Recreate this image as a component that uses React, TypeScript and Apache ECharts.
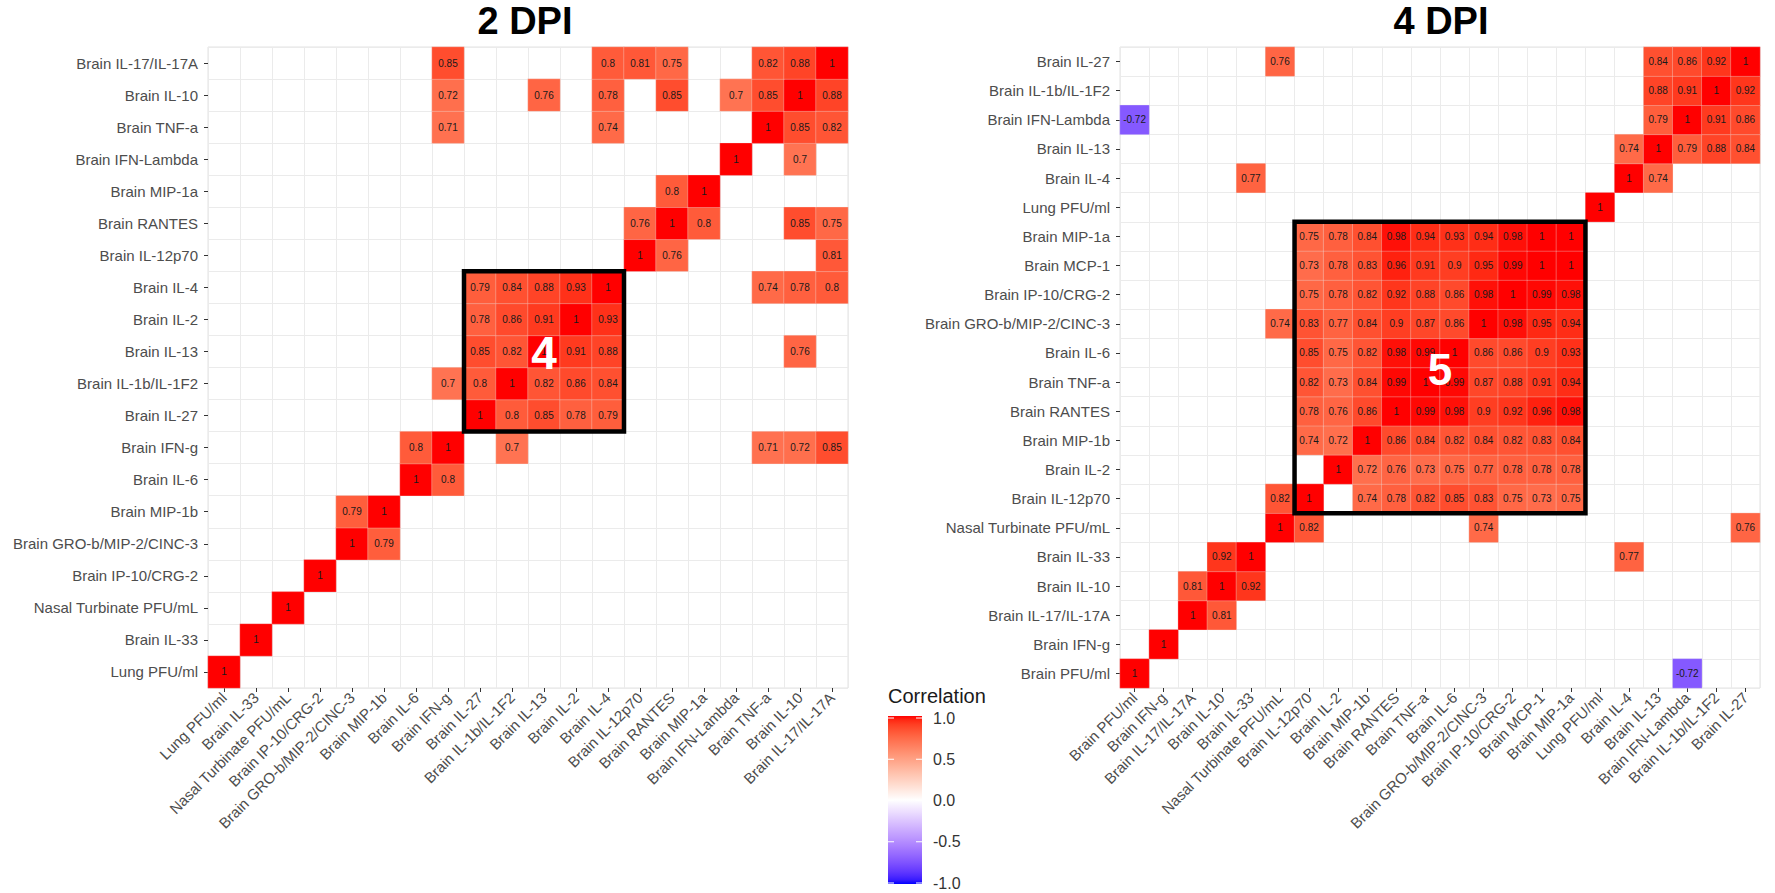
import React, { useEffect, useRef } from 'react';
import * as echarts from 'echarts';

// ---------- DATA ----------
const dpi2Categories = [
  'Lung PFU/ml', 'Brain IL-33', 'Nasal Turbinate PFU/mL', 'Brain IP-10/CRG-2',
  'Brain GRO-b/MIP-2/CINC-3', 'Brain MIP-1b', 'Brain IL-6', 'Brain IFN-g',
  'Brain IL-27', 'Brain IL-1b/IL-1F2', 'Brain IL-13', 'Brain IL-2', 'Brain IL-4',
  'Brain IL-12p70', 'Brain RANTES', 'Brain MIP-1a', 'Brain IFN-Lambda',
  'Brain TNF-a', 'Brain IL-10', 'Brain IL-17/IL-17A',
];

const dpi4Categories = [
  'Brain PFU/ml', 'Brain IFN-g', 'Brain IL-17/IL-17A', 'Brain IL-10', 'Brain IL-33',
  'Nasal Turbinate PFU/mL', 'Brain IL-12p70', 'Brain IL-2', 'Brain MIP-1b',
  'Brain RANTES', 'Brain TNF-a', 'Brain IL-6', 'Brain GRO-b/MIP-2/CINC-3',
  'Brain IP-10/CRG-2', 'Brain MCP-1', 'Brain MIP-1a', 'Lung PFU/ml', 'Brain IL-4',
  'Brain IL-13', 'Brain IFN-Lambda', 'Brain IL-1b/IL-1F2', 'Brain IL-27',
];

// rows follow the category order (index 0 = bottom row); column index -> correlation
const dpi2Rows: Record<number, number>[] = [
  { 0: 1 },
  { 1: 1 },
  { 2: 1 },
  { 3: 1 },
  { 4: 1, 5: 0.79 },
  { 4: 0.79, 5: 1 },
  { 6: 1, 7: 0.8 },
  { 6: 0.8, 7: 1, 9: 0.7, 17: 0.71, 18: 0.72, 19: 0.85 },
  { 8: 1, 9: 0.8, 10: 0.85, 11: 0.78, 12: 0.79 },
  { 7: 0.7, 8: 0.8, 9: 1, 10: 0.82, 11: 0.86, 12: 0.84 },
  { 8: 0.85, 9: 0.82, 10: 1, 11: 0.91, 12: 0.88, 18: 0.76 },
  { 8: 0.78, 9: 0.86, 10: 0.91, 11: 1, 12: 0.93 },
  { 8: 0.79, 9: 0.84, 10: 0.88, 11: 0.93, 12: 1, 17: 0.74, 18: 0.78, 19: 0.8 },
  { 13: 1, 14: 0.76, 19: 0.81 },
  { 13: 0.76, 14: 1, 15: 0.8, 18: 0.85, 19: 0.75 },
  { 14: 0.8, 15: 1 },
  { 16: 1, 18: 0.7 },
  { 7: 0.71, 12: 0.74, 17: 1, 18: 0.85, 19: 0.82 },
  { 7: 0.72, 10: 0.76, 12: 0.78, 14: 0.85, 16: 0.7, 17: 0.85, 18: 1, 19: 0.88 },
  { 7: 0.85, 12: 0.8, 13: 0.81, 14: 0.75, 17: 0.82, 18: 0.88, 19: 1 },
];

const dpi4Rows: Record<number, number>[] = [
  { 0: 1, 19: -0.72 },
  { 1: 1 },
  { 2: 1, 3: 0.81 },
  { 2: 0.81, 3: 1, 4: 0.92 },
  { 3: 0.92, 4: 1, 17: 0.77 },
  { 5: 1, 6: 0.82, 12: 0.74, 21: 0.76 },
  { 5: 0.82, 6: 1, 8: 0.74, 9: 0.78, 10: 0.82, 11: 0.85, 12: 0.83, 13: 0.75, 14: 0.73, 15: 0.75 },
  { 7: 1, 8: 0.72, 9: 0.76, 10: 0.73, 11: 0.75, 12: 0.77, 13: 0.78, 14: 0.78, 15: 0.78 },
  { 6: 0.74, 7: 0.72, 8: 1, 9: 0.86, 10: 0.84, 11: 0.82, 12: 0.84, 13: 0.82, 14: 0.83, 15: 0.84 },
  { 6: 0.78, 7: 0.76, 8: 0.86, 9: 1, 10: 0.99, 11: 0.98, 12: 0.9, 13: 0.92, 14: 0.96, 15: 0.98 },
  { 6: 0.82, 7: 0.73, 8: 0.84, 9: 0.99, 10: 1, 11: 0.99, 12: 0.87, 13: 0.88, 14: 0.91, 15: 0.94 },
  { 6: 0.85, 7: 0.75, 8: 0.82, 9: 0.98, 10: 0.99, 11: 1, 12: 0.86, 13: 0.86, 14: 0.9, 15: 0.93 },
  { 5: 0.74, 6: 0.83, 7: 0.77, 8: 0.84, 9: 0.9, 10: 0.87, 11: 0.86, 12: 1, 13: 0.98, 14: 0.95, 15: 0.94 },
  { 6: 0.75, 7: 0.78, 8: 0.82, 9: 0.92, 10: 0.88, 11: 0.86, 12: 0.98, 13: 1, 14: 0.99, 15: 0.98 },
  { 6: 0.73, 7: 0.78, 8: 0.83, 9: 0.96, 10: 0.91, 11: 0.9, 12: 0.95, 13: 0.99, 14: 1, 15: 1 },
  { 6: 0.75, 7: 0.78, 8: 0.84, 9: 0.98, 10: 0.94, 11: 0.93, 12: 0.94, 13: 0.98, 14: 1, 15: 1 },
  { 16: 1 },
  { 4: 0.77, 17: 1, 18: 0.74 },
  { 17: 0.74, 18: 1, 19: 0.79, 20: 0.88, 21: 0.84 },
  { 0: -0.72, 18: 0.79, 19: 1, 20: 0.91, 21: 0.86 },
  { 18: 0.88, 19: 0.91, 20: 1, 21: 0.92 },
  { 5: 0.76, 18: 0.84, 19: 0.86, 20: 0.92, 21: 1 },
];

const panelTitles = ['2 DPI', '4 DPI'];
const clusterLabels = ['4', '5'];
// highlighted clusters: [firstCol, lastCol, firstRow, lastRow] in category indices
const dpi2Cluster = [8, 12, 8, 12];
const dpi4Cluster = [6, 15, 6, 15];
const legendTicks = [1, 0.5, 0, -0.5, -1];
const legendTickLabels = ['1.0', '0.5', '0.0', '-0.5', '-1.0'];

// ---------- COLOUR SCALE (ggplot gradient2 in Lab space) ----------
const toLin = (c: number) => { c /= 255; return c <= 0.04045 ? c / 12.92 : Math.pow((c + 0.055) / 1.055, 2.4); };
const toSrgb = (c: number) => { c = Math.min(1, Math.max(0, c)); return c <= 0.0031308 ? 12.92 * c : 1.055 * Math.pow(c, 1 / 2.4) - 0.055; };
const fLab = (t: number) => (t > 0.008856 ? Math.cbrt(t) : 7.787 * t + 16 / 116);
const fInv = (t: number) => (t * t * t > 0.008856 ? t * t * t : (t - 16 / 116) / 7.787);
function rgbToLab(rgb: number[]) {
  const [r, g, b] = rgb.map(toLin);
  const X = (0.4124 * r + 0.3576 * g + 0.1805 * b) / 0.95047;
  const Y = 0.2126 * r + 0.7152 * g + 0.0722 * b;
  const Z = (0.0193 * r + 0.1192 * g + 0.9505 * b) / 1.08883;
  return [116 * fLab(Y) - 16, 500 * (fLab(X) - fLab(Y)), 200 * (fLab(Y) - fLab(Z))];
}
function labToHex(lab: number[]) {
  const fy = (lab[0] + 16) / 116, fx = fy + lab[1] / 500, fz = fy - lab[2] / 200;
  const X = 0.95047 * fInv(fx), Y = fInv(fy), Z = 1.08883 * fInv(fz);
  const r = 3.2406 * X - 1.5372 * Y - 0.4986 * Z;
  const g = -0.9689 * X + 1.8758 * Y + 0.0415 * Z;
  const b = 0.0557 * X - 0.204 * Y + 1.057 * Z;
  return '#' + [r, g, b].map((c) => Math.round(toSrgb(c) * 255).toString(16).padStart(2, '0')).join('');
}
const LAB_WHITE = rgbToLab([255, 255, 255]);
const LAB_RED = rgbToLab([255, 0, 0]);
const LAB_BLUE = rgbToLab([0, 0, 255]);
function colorFor(v: number) {
  const end = v >= 0 ? LAB_RED : LAB_BLUE;
  const t = Math.abs(v);
  return labToHex(LAB_WHITE.map((w, i) => w + (end[i] - w) * t));
}
const gradientColors: string[] = [];
for (let i = 0; i <= 40; i++) gradientColors.push(colorFor(-1 + i * 0.05));

const toData = (rows: Record<number, number>[]) => {
  const out: number[][] = [];
  rows.forEach((r, y) => Object.keys(r).forEach((k) => out.push([Number(k), y, r[Number(k)]])));
  return out;
};

const FONT = 'Liberation Sans, Arial, Helvetica, sans-serif';

const makeAxes = (cats: string[], idx: number) => {
  const common = {
    type: 'category' as const,
    gridIndex: idx,
    data: cats,
    axisLine: { show: false },
    axisTick: { show: true, alignWithLabel: true, length: 4, lineStyle: { color: '#333', width: 1 } },
    splitLine: { show: true, interval: 0, lineStyle: { color: '#EBEBEB', width: 1 } },
  };
  return {
    x: { ...common, axisLabel: { interval: 0, rotate: 45, margin: 7, fontSize: 15, color: '#4D4D4D', fontFamily: FONT } },
    y: { ...common, axisLabel: { interval: 0, margin: 10, fontSize: 15, color: '#4D4D4D', fontFamily: FONT } },
  };
};

const App: React.FC = () => {
  const ref = useRef<HTMLDivElement>(null);
  useEffect(() => {
    if (!ref.current) return;
    const chart = echarts.init(ref.current, undefined, { renderer: 'svg' });
    const a0 = makeAxes(dpi2Categories, 0);
    const a1 = makeAxes(dpi4Categories, 1);
    const seriesCommon = {
      type: 'heatmap' as const,
      label: {
        show: true,
        fontSize: 10,
        color: '#1a1a1a',
        fontFamily: FONT,
        formatter: (p: any) => String(p.value[2]),
      },
      itemStyle: { borderColor: 'rgba(240,240,240,0.3)', borderWidth: 1 },
      emphasis: { disabled: true },
    };
    chart.setOption({
      animation: false,
      backgroundColor: '#ffffff',
      grid: [
        { left: 208, top: 47, width: 640, height: 641, show: true, borderColor: '#E3E3E3', borderWidth: 1, backgroundColor: 'transparent' },
        { left: 1120, top: 47, width: 640, height: 641, show: true, borderColor: '#E3E3E3', borderWidth: 1, backgroundColor: 'transparent' },
      ],
      xAxis: [a0.x, a1.x],
      yAxis: [a0.y, a1.y],
      visualMap: {
        type: 'continuous',
        min: -1,
        max: 1,
        show: false,
        dimension: 2,
        seriesIndex: [0, 1],
        inRange: { color: gradientColors },
      },
      series: [
        { ...seriesCommon, xAxisIndex: 0, yAxisIndex: 0, data: toData(dpi2Rows) },
        { ...seriesCommon, xAxisIndex: 1, yAxisIndex: 1, data: toData(dpi4Rows) },
      ],
    });

    const boxes = [dpi2Cluster, dpi4Cluster];
    const graphics: any[] = [];
    boxes.forEach((cl, gi) => {
      const p0 = chart.convertToPixel({ gridIndex: gi }, [cl[0], cl[2]]) as number[];
      const p1 = chart.convertToPixel({ gridIndex: gi }, [cl[1], cl[3]]) as number[];
      const pn = chart.convertToPixel({ gridIndex: gi }, [cl[0] + 1, cl[2] + 1]) as number[];
      const cw = pn[0] - p0[0];
      const ch = p0[1] - pn[1];
      const x0 = p0[0] - cw / 2, x1 = p1[0] + cw / 2;
      const yb = p0[1] + ch / 2, yt = p1[1] - ch / 2;
      graphics.push({
        type: 'rect', z: 100,
        shape: { x: x0, y: yt, width: x1 - x0, height: yb - yt },
        style: { fill: 'none', stroke: '#000', lineWidth: 4.5 },
      });
      graphics.push({
        type: 'text', z: 101,
        x: (x0 + x1) / 2, y: (yt + yb) / 2 + 2,
        style: {
          text: clusterLabels[gi], fill: '#fff', fontSize: gi === 0 ? 46 : 44, fontWeight: 'bold', fontFamily: FONT,
          align: 'center', verticalAlign: 'middle', textAlign: 'center', textVerticalAlign: 'middle',
        },
      });
      const gLeft = gi === 0 ? 208 : 1120;
      graphics.push({
        type: 'text', z: 101,
        x: gLeft + 320 - (gi === 0 ? 3 : -1), y: 21,
        style: {
          text: panelTitles[gi], fill: '#000', fontSize: 38, fontWeight: 'bold', fontFamily: FONT,
          align: 'center', verticalAlign: 'middle', textAlign: 'center', textVerticalAlign: 'middle',
        },
      });
    });

    // legend (colour bar)
    const barX = 888, barW = 34, barTop = 716, barH = 168;
    const yOf = (v: number) => barTop + 2 + ((1 - v) / 2) * (barH - 3);
    graphics.push({
      type: 'text', z: 101, x: 888, y: 696,
      style: { text: 'Correlation', fill: '#1a1a1a', fontSize: 20, fontFamily: FONT, align: 'left', verticalAlign: 'middle', textAlign: 'left', textVerticalAlign: 'middle' },
    });
    graphics.push({
      type: 'rect', z: 100,
      shape: { x: barX, y: barTop, width: barW, height: barH },
      style: {
        fill: new echarts.graphic.LinearGradient(0, 0, 0, 1,
          gradientColors.slice().reverse().map((c, i) => ({ offset: i / (gradientColors.length - 1), color: c }))),
        stroke: 'none',
      },
    });
    legendTicks.forEach((v, i) => {
      const y = yOf(v);
      graphics.push({ type: 'line', z: 101, shape: { x1: barX, y1: y, x2: barX + 6, y2: y }, style: { stroke: '#fff', lineWidth: 1 } });
      graphics.push({ type: 'line', z: 101, shape: { x1: barX + barW - 6, y1: y, x2: barX + barW, y2: y }, style: { stroke: '#fff', lineWidth: 1 } });
      graphics.push({
        type: 'text', z: 101, x: 933, y,
        style: { text: legendTickLabels[i], fill: '#333', fontSize: 16, fontFamily: FONT, align: 'left', verticalAlign: 'middle', textAlign: 'left', textVerticalAlign: 'middle' },
      });
    });

    chart.setOption({ graphic: graphics });
    return () => chart.dispose();
  }, []);
  return (
    <div
      ref={ref}
      style={{ position: 'fixed', left: 0, top: 0, width: 1775, height: 893, background: '#fff' }}
    />
  );
};

export default App;
